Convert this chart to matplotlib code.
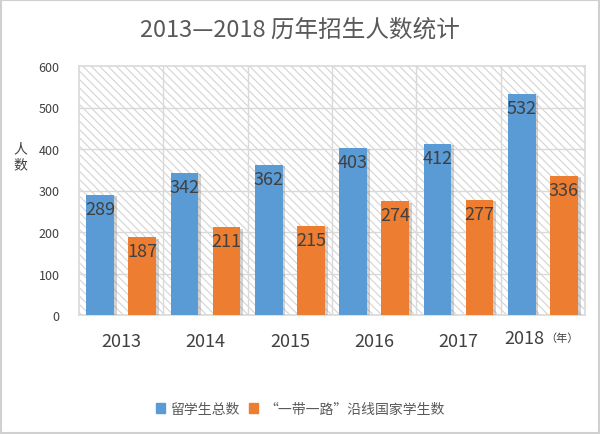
import numpy as np
import matplotlib as mpl
mpl.use('Agg')
import matplotlib.pyplot as plt
import matplotlib.patheffects as pe
from matplotlib.patches import Patch

plt.rcParams['font.family'] = ['Noto Sans CJK SC', 'DejaVu Sans']
plt.rcParams['hatch.color'] = '#d4d4d4'
plt.rcParams['hatch.linewidth'] = 0.8

# datos
years = ['2013', '2014', '2015', '2016', '2017', '2018']
total = [289, 342, 362, 403, 412, 532]
belt_road = [187, 211, 215, 274, 277, 336]
yticks = [0, 100, 200, 300, 400, 500, 600]
series_names = ['留学生总数', '“一带一路”沿线国家学生数']

blue = '#5B9BD5'
orange = '#ED7D31'
text_col = '#404040'

fig = plt.figure(figsize=(6, 4.35), dpi=100)
fig.patch.set_facecolor('white')
fig.patches.append(mpl.patches.Rectangle((0.002, 0.002), 0.996, 0.996, transform=fig.transFigure,
                                         fill=False, edgecolor='#d0d0d0', lw=1.5))

ax = fig.add_axes([79 / 600, 1 - 316 / 435, (585 - 79) / 600, (316 - 67) / 435])

x = np.arange(len(years))
w = 0.33
shadow = [pe.SimplePatchShadow(offset=(2, -1), shadow_rgbFace='#707070', alpha=0.3), pe.Normal()]
b1 = ax.bar(x - 0.25, total, w, color=blue, zorder=3, path_effects=shadow)
b2 = ax.bar(x + 0.25, belt_road, w, color=orange, zorder=3, path_effects=shadow)

for bars in (b1, b2):
    for r in bars:
        ax.text(r.get_x() + r.get_width() / 2, r.get_height() - 12, str(int(r.get_height())),
                ha='center', va='top', fontsize=13, color=text_col, zorder=4)

ax.set_xlim(-0.5, len(years) - 0.5)
ax.set_ylim(0, 600)
ax.set_yticks(yticks)
ax.set_xticks(x)
# el último año lleva la unidad al lado, se dibuja aparte
ax.set_xticklabels(years[:-1] + [''], fontsize=13, color=text_col)
ax.tick_params(axis='y', labelsize=9, colors=text_col, length=0, pad=14)
ax.tick_params(axis='x', length=0, pad=12)
ax.text(x[-1] + 0.02, -0.093, years[-1], transform=ax.get_xaxis_transform(), fontsize=13,
        color=text_col, ha='right', va='center')
ax.text(x[-1] + 0.03, -0.09, '（年）', transform=ax.get_xaxis_transform(), fontsize=8,
        color=text_col, ha='left', va='center')

# fondo con rayas diagonales
ax.add_patch(mpl.patches.Rectangle((0, 0), 1, 1, transform=ax.transAxes, facecolor='white',
                                   hatch='\\\\\\\\', edgecolor='#d4d4d4', lw=0, zorder=0))
ax.set_facecolor('white')
for xv in np.arange(0.5, len(years) - 0.5, 1):
    ax.axvline(xv, color='#d9d9d9', lw=1, zorder=1)
for yv in yticks[1:-1]:
    ax.axhline(yv, color='#d9d9d9', lw=1, zorder=1)
for s in ax.spines.values():
    s.set_color('#d9d9d9')
    s.set_linewidth(1.2)

fig.text(20 / 600, 1 - 157 / 435, '人\n数', fontsize=10, color=text_col, ha='center',
         va='center', linespacing=1.2)

fig.suptitle('2013—2018 历年招生人数统计', y=1 - 30 / 435, fontsize=17, color='#595959', va='center')

handles = [Patch(color=blue), Patch(color=orange)]
fig.legend(handles=handles, labels=series_names, loc='center', bbox_to_anchor=(0.5, 1 - 410 / 435),
           ncol=2, frameon=False, fontsize=10, labelcolor='#595959', handlelength=0.7,
           handleheight=0.7, handletextpad=0.4, columnspacing=0.6)

fig.savefig('out.png', dpi=100)
